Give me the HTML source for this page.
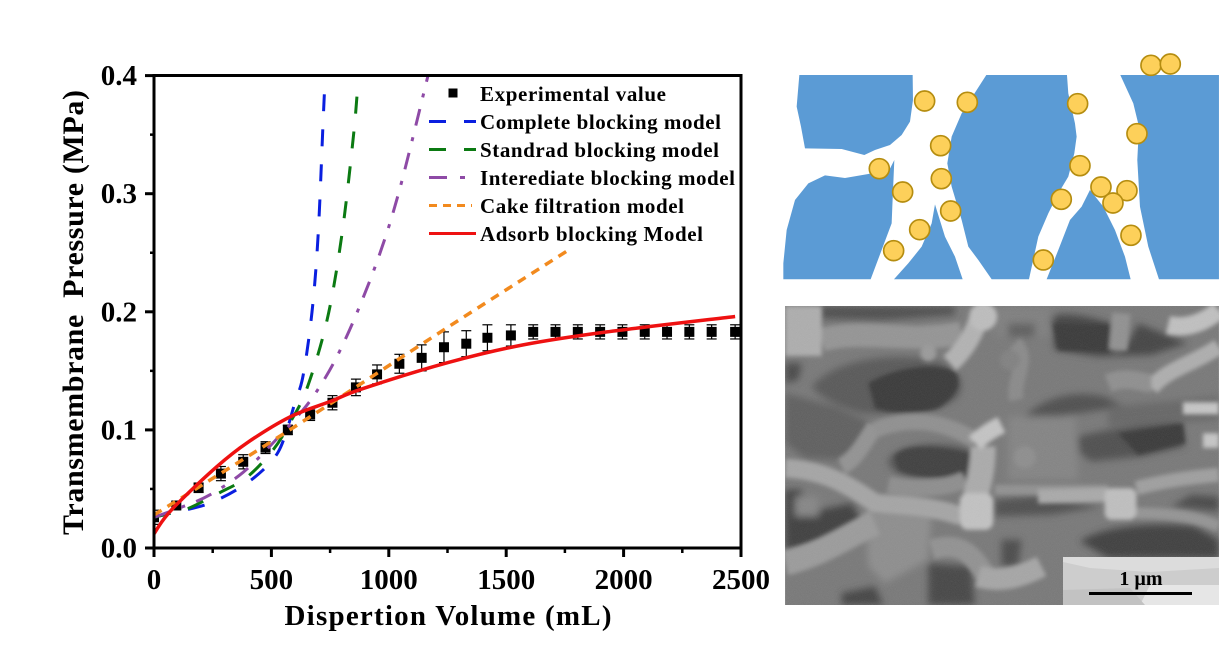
<!DOCTYPE html>
<html lang="en">
<head>
<meta charset="utf-8">
<title>Transmembrane pressure vs dispersion volume</title>
<style>
html,body{margin:0;padding:0;background:#fff;width:1221px;height:661px;overflow:hidden}
svg{display:block}
text{font-family:"Liberation Serif",serif;font-weight:bold;fill:#000}
</style>
</head>
<body>
<svg id="fig" width="1221" height="661" viewBox="0 0 1221 661" xmlns="http://www.w3.org/2000/svg">
<defs>
<filter id="soft" x="-5%" y="-5%" width="110%" height="110%"><feGaussianBlur stdDeviation="11"/></filter>
<filter id="soft2" x="-5%" y="-5%" width="110%" height="110%"><feGaussianBlur stdDeviation="6"/></filter>
<filter id="grain" x="0" y="0" width="100%" height="100%"><feTurbulence type="fractalNoise" baseFrequency="0.55" numOctaves="2" seed="4"/><feColorMatrix type="saturate" values="0"/></filter>
</defs>

<g id="chart">
<svg x="154" y="75" width="587" height="474" viewBox="154 75 587 474">
<g id="series"></g>
</svg>
<rect x="154" y="75.500" width="587" height="472.500" fill="none" stroke="#000" stroke-width="3"/>
<g id="axes"></g>
<text x="448" y="625" font-size="29" text-anchor="middle" textLength="327" lengthAdjust="spacing">Dispertion Volume (mL)</text>
<text transform="translate(83,312.500) rotate(-90)" font-size="30" text-anchor="middle" textLength="445" lengthAdjust="spacing" xml:space="preserve">Transmembrane  Pressure (MPa)</text>
<g id="legend">
<rect x="448.500" y="88.500" width="9" height="9" fill="#000"/>
<text x="480" y="101" font-size="21" textLength="186" lengthAdjust="spacing">Experimental value</text>
<line x1="429" y1="121.500" x2="476" y2="121.500" stroke="#0a1fe0" stroke-width="3" stroke-dasharray="17 18"/>
<text x="480" y="129" font-size="21" textLength="241" lengthAdjust="spacing">Complete blocking model</text>
<line x1="429" y1="149.500" x2="476" y2="149.500" stroke="#0b7a12" stroke-width="3" stroke-dasharray="17 18"/>
<text x="480" y="157" font-size="21" textLength="239" lengthAdjust="spacing">Standrad blocking model</text>
<line x1="429" y1="177.500" x2="447" y2="177.500" stroke="#8e4aa6" stroke-width="3"/>
<line x1="460" y1="177.500" x2="465" y2="177.500" stroke="#8e4aa6" stroke-width="3"/>
<text x="480" y="185" font-size="21" textLength="255" lengthAdjust="spacing">Interediate blocking model</text>
<line x1="429" y1="205.500" x2="472" y2="205.500" stroke="#f28a1e" stroke-width="3" stroke-dasharray="8 6"/>
<text x="480" y="213" font-size="21" textLength="204" lengthAdjust="spacing">Cake filtration model</text>
<line x1="429" y1="233.500" x2="476" y2="233.500" stroke="#ee1111" stroke-width="3"/>
<text x="480" y="241" font-size="21" textLength="223" lengthAdjust="spacing">Adsorb blocking Model</text>
</g>
</g>

<g transform="translate(775,50) scale(0.3333)">
<g fill="#5b9bd5">
<path d="M73,75 L413,75 L414,150 L405,215 L380,255 L345,285 L300,300 L268,315 L200,297 L90,295 L78,230 L65,170 Z"/>
<path d="M358,330 L352,470 L350,520 L320,600 L287,688 L25,688 L25,640 L35,540 L60,450 L100,400 L150,376 L210,384 L280,372 L345,356 Z"/>
<path d="M480,463 L510,560 L540,620 L563,688 L357,688 L400,640 L440,590 L470,520 Z"/>
<path d="M634,75 L876,75 L880,130 L900,220 L905,260 L898,310 L880,380 L850,430 L820,490 L790,560 L762,688 L650,688 L610,630 L580,590 L560,510 L530,410 L517,340 L530,260 L560,190 Z"/>
<path d="M945,420 L985,470 L1020,540 L1050,620 L1067,688 L815,688 L850,600 L885,510 L920,470 Z"/>
<path d="M1036,75 L1332,75 L1332,688 L1152,688 L1120,590 L1095,470 L1087,330 L1092,230 L1075,160 Z"/>
</g>
<g id="particles" fill="#fdd05a" stroke="#b58d10" stroke-width="5"></g>
</g>

<svg x="785" y="306" width="434" height="299" viewBox="30 18 1303 898">
<rect x="30" y="18" width="1303" height="898" fill="#767676"/>
<g filter="url(#soft)">
<path d="M110,260 C170,190 300,160 450,175 C540,190 580,240 550,290 C500,340 380,350 260,340 C190,320 130,290 110,260Z" fill="#545454"/>
<path d="M30,280 L180,320 L290,370 L250,440 L190,480 L90,475 L30,430Z" fill="#5c5c5c"/>
<path d="M30,570 L80,570 L90,640 L230,610 L270,680 L170,730 L30,750Z" fill="#3a3a3a"/>
<path d="M135,18 L540,18 L540,45 L330,60 L135,55Z" fill="#484848"/>
<path d="M330,95 L450,85 L440,108 L340,110Z" fill="#484848"/>
<path d="M830,50 C880,30 980,60 1010,70 L1010,150 C1040,170 1060,130 1090,70 L1240,130 L1130,165 L970,170 L840,150Z" fill="#414141"/>
<path d="M750,350 C810,290 900,270 990,290 L1050,320 L850,350Z" fill="#4c4c4c"/>
<path d="M1000,320 L1333,290 L1333,360 L1000,380Z" fill="#636363"/>
<path d="M910,410 C980,390 1120,370 1220,370 L1230,440 L1100,470 L950,485 L915,460Z" fill="#4c4c4c"/>
<path d="M915,725 C980,680 1130,665 1260,680 L1333,720 L1333,775 L1000,775Z" fill="#3b3b3b"/>
<path d="M460,790 L590,800 L600,916 L460,916Z" fill="#434343"/>
<path d="M200,880 L300,860 L325,916 L200,916Z" fill="#404040"/>
<path d="M660,600 L780,590 L980,620 L830,645 L660,650Z" fill="#4b4b4b"/>
<path d="M1190,620 L1250,585 L1333,590 L1333,635 Z" fill="#454545"/>
<path d="M680,720 L740,720 L730,800 L680,800Z" fill="#474747"/>
<path d="M30,190 L80,190 L70,240 L30,250Z" fill="#444444"/>
<path d="M340,480 C370,430 500,420 590,450 L575,530 L420,535 C370,525 340,510 340,480Z" fill="#4d4d4d"/>
<path d="M660,20 L830,20 L830,110 L660,110Z" fill="#7d7d7d"/>
<path d="M700,70 L780,70 L780,110 L700,110Z" fill="#5c5c5c"/>
<path d="M60,590 L130,590 L130,650 L60,650Z" fill="#848484"/>
<path d="M700,350 L900,350 L910,540 L700,540Z" fill="#828282"/>
<path d="M270,630 L470,640 L460,780 L330,850 L280,800Z" fill="#8c8c8c"/>
</g>
<g filter="url(#soft2)">
<path d="M280,250 C340,210 470,180 540,215 C570,260 530,300 490,325 C420,345 340,340 300,325Z" fill="#343434"/>
<path d="M358,470 C380,440 450,430 585,460 L575,528 C490,540 410,530 370,510Z" fill="#3a3a3a"/>
<path d="M1030,400 L1225,370 L1232,430 L1090,465Z" fill="#353535"/>
<path d="M835,70 L1010,75 L1010,155 L850,150Z" fill="#343434"/>
<g fill="none" stroke-linecap="butt">
<path d="M140,120 C260,85 400,130 560,100" stroke="#939393" stroke-width="70"/>
<path d="M525,190 C570,150 600,100 620,30" stroke="#b2b2b2" stroke-width="58"/>
<path d="M1040,40 L1030,150" stroke="#8f8f8f" stroke-width="55"/>
<path d="M1130,265 C1170,210 1260,190 1333,140" stroke="#adadad" stroke-width="48"/>
<path d="M1180,75 C1240,90 1300,60 1333,30" stroke="#c0c0c0" stroke-width="55"/>
<path d="M1225,325 L1333,325" stroke="#c6c6c6" stroke-width="36"/>
<path d="M1285,422 L1333,422" stroke="#c6c6c6" stroke-width="44"/>
<path d="M30,505 C130,510 200,540 300,610 C400,620 480,620 560,650" stroke="#a4a4a4" stroke-width="56"/>
<path d="M300,380 C260,440 240,480 200,500" stroke="#919191" stroke-width="50"/>
<path d="M300,390 C400,350 500,360 600,420" stroke="#8e8e8e" stroke-width="48"/>
<path d="M340,555 C420,570 500,570 570,540" stroke="#8c8c8c" stroke-width="50"/>
<path d="M625,440 C625,520 610,560 590,630" stroke="#aaaaaa" stroke-width="75"/>
<path d="M600,430 C630,400 660,385 680,375" stroke="#c4c4c4" stroke-width="52"/>
<path d="M660,570 L1000,570" stroke="#909090" stroke-width="30"/>
<path d="M790,590 L1000,585" stroke="#a9a9a9" stroke-width="42"/>
<path d="M1085,565 C1180,540 1270,530 1333,525" stroke="#9e9e9e" stroke-width="42"/>
<path d="M1085,640 C1180,640 1270,650 1333,680" stroke="#939393" stroke-width="34"/>
<path d="M30,790 C150,760 230,700 300,670" stroke="#9a9a9a" stroke-width="75"/>
<path d="M470,750 C560,720 600,770 640,840" stroke="#909090" stroke-width="60"/>
<path d="M610,830 C680,850 740,830 800,800" stroke="#a5a5a5" stroke-width="65"/>
<path d="M720,130 C770,180 710,240 725,300" stroke="#888888" stroke-width="44"/>
<path d="M1000,250 C1060,225 1100,250 1130,250" stroke="#8d8d8d" stroke-width="55"/>
</g>
<rect x="30" y="18" width="110" height="150" fill="#adadad"/>
<rect x="990" y="565" width="95" height="95" rx="20" fill="#bfbfbf"/>
<rect x="555" y="580" width="100" height="110" rx="24" fill="#c2c2c2"/>
<circle cx="460" cy="160" r="24" fill="#999999"/>
<circle cx="705" cy="180" r="30" fill="#7f7f7f"/>
<circle cx="750" cy="472" r="33" fill="#8c8c8c"/>
<circle cx="625" cy="50" r="42" fill="#bdbdbd"/>
</g>
<rect x="30" y="18" width="1303" height="898" filter="url(#grain)" opacity="0.18"/>
</svg>

<g>
<rect x="1063" y="557" width="156" height="48" fill="#cdcdcd"/>
<path d="M1063,557 L1219,557 L1219,568 L1150,572 L1090,568 L1063,562Z" fill="#dcdcdc"/>
<path d="M1140,605 L1150,585 L1219,585 L1219,605Z" fill="#e6e6e6"/>
<path d="M1063,590 L1130,588 L1145,605 L1063,605Z" fill="#c2c2c2"/>
<text x="1141" y="585" font-size="20" text-anchor="middle">1 µm</text>
<rect x="1089" y="592" width="103" height="3" fill="#000"/>
</g>
</svg>

<script>
var volumes = [0,95,190,285,380,475,570,665,760,860,950,1045,1140,1235,1330,1420,1520,1615,1710,1805,1900,1995,2090,2185,2280,2375,2475];
var pressures = [0.026,0.036,0.051,0.063,0.073,0.085,0.100,0.113,0.123,0.136,0.147,0.156,0.161,0.170,0.173,0.178,0.180,0.183,0.183,0.183,0.183,0.183,0.183,0.183,0.183,0.183,0.183];
var errors = [0.006,0.003,0.004,0.006,0.006,0.005,0.004,0.005,0.006,0.007,0.008,0.008,0.011,0.013,0.011,0.011,0.009,0.006,0.006,0.006,0.006,0.006,0.006,0.006,0.006,0.006,0.006];

var completeX = [0,60,110,238,366,464,528,566,600,635,673,699,720,728];
var completeY = [0.026,0.029,0.031,0.038,0.051,0.066,0.081,0.100,0.123,0.146,0.200,0.265,0.360,0.395];
var standardX = [0,60,140,281,396,507,579,651,737,800,850,869];
var standardY = [0.026,0.029,0.033,0.047,0.060,0.083,0.106,0.135,0.193,0.265,0.350,0.395];
var intermediateX = [0,123,238,379,507,635,707,779,864,963,1048,1167];
var intermediateY = [0.026,0.035,0.045,0.064,0.089,0.117,0.137,0.162,0.199,0.250,0.305,0.400];
var cakeX = [0,570,1252,1763];
var cakeY = [0.028,0.099,0.187,0.252];
var adsorbX = [0,40,102,268,396,579,750,890,1252,1572,1929,2475];
var adsorbY = [0.012,0.024,0.038,0.069,0.089,0.111,0.124,0.135,0.157,0.172,0.183,0.196];

var xTickValues = [0,500,1000,1500,2000,2500];
var xMinorValues = [250,750,1250,1750,2250];
var yTickValues = ['0.0','0.1','0.2','0.3','0.4'];
var yMinorValues = [0.05,0.15,0.25,0.35];

var particleCenters = [[449,153],[577,157],[908,161],[1128,46],[1186,42],[1086,251],[497,287],[915,347],[313,356],[499,386],[978,411],[1056,422],[1014,459],[383,426],[859,448],[527,483],[434,539],[1068,556],[356,602],[805,630]];

var NS = 'http://www.w3.org/2000/svg';
function xScale(v){ return 154 + v * 587 / 2500; }
function yScale(v){ return 548 - v * 1181; }
function make(tag, attrs, parent){
  var el = document.createElementNS(NS, tag);
  for (var k in attrs) el.setAttribute(k, attrs[k]);
  parent.appendChild(el);
  return el;
}
function linePath(xs, ys){
  var pts = xs.map(function(v,i){ return [xScale(v), yScale(ys[i])]; });
  var d = 'M' + pts[0][0] + ',' + pts[0][1];
  for (var i = 0; i < pts.length - 1; i++){
    var p0 = pts[Math.max(i-1,0)], p1 = pts[i], p2 = pts[i+1], p3 = pts[Math.min(i+2,pts.length-1)];
    d += ' C' + (p1[0]+(p2[0]-p0[0])/6) + ',' + (p1[1]+(p2[1]-p0[1])/6) + ' ' +
         (p2[0]-(p3[0]-p1[0])/6) + ',' + (p2[1]-(p3[1]-p1[1])/6) + ' ' + p2[0] + ',' + p2[1];
  }
  return d;
}

var seriesG = document.getElementById('series');
var axesG = document.getElementById('axes');
var particlesG = document.getElementById('particles');

volumes.forEach(function(v,i){
  var g = make('g', {}, seriesG);
  
  
  var cx = xScale(v), cy = yScale(pressures[i]);
  var top = yScale(pressures[i] + errors[i]), bot = yScale(pressures[i] - errors[i]);
  make('line', {x1:cx,x2:cx,y1:top,y2:bot,stroke:'#000','stroke-width':1.200}, g);
  make('line', {x1:cx-5,x2:cx+5,y1:top,y2:top,stroke:'#000','stroke-width':1.200}, g);
  make('line', {x1:cx-5,x2:cx+5,y1:bot,y2:bot,stroke:'#000','stroke-width':1.200}, g);
  make('rect', {x:cx-5,y:cy-5,width:10,height:10,fill:'#000'}, g);
});

var completeLine = make('path', {d:linePath(completeX,completeY),fill:'none',stroke:'#0a1fe0','stroke-width':3,'stroke-dasharray':'17 18'}, seriesG);


var standardLine = make('path', {d:linePath(standardX,standardY),fill:'none',stroke:'#0b7a12','stroke-width':3,'stroke-dasharray':'17 18'}, seriesG);


var intermediateLine = make('path', {d:linePath(intermediateX,intermediateY),fill:'none',stroke:'#8e4aa6','stroke-width':3,'stroke-dasharray':'17 12 4 12'}, seriesG);


var cakeLine = make('path', {d:linePath(cakeX,cakeY),fill:'none',stroke:'#f28a1e','stroke-width':3.500,'stroke-dasharray':'9 7'}, seriesG);


var adsorbLine = make('path', {d:linePath(adsorbX,adsorbY),fill:'none',stroke:'#ee1111','stroke-width':3.500}, seriesG);



xTickValues.forEach(function(v){
  var tick = make('line', {x1:xScale(v),x2:xScale(v),y1:548,y2:557,stroke:'#000','stroke-width':3}, axesG);
  
  
  var label = make('text', {x:xScale(v),y:589,'font-size':29,'text-anchor':'middle'}, axesG);
  
  
  label.textContent = v;
});
xMinorValues.forEach(function(v){
  var tick = make('line', {x1:xScale(v),x2:xScale(v),y1:548,y2:553,stroke:'#000','stroke-width':2.500}, axesG);
  
  
});
yTickValues.forEach(function(s){
  var v = parseFloat(s);
  var tick = make('line', {x1:145,x2:154,y1:yScale(v),y2:yScale(v),stroke:'#000','stroke-width':3}, axesG);
  
  
  var label = make('text', {x:137,y:yScale(v)+9.500,'font-size':29,'text-anchor':'end'}, axesG);
  
  
  label.textContent = s;
});
yMinorValues.forEach(function(v){
  var tick = make('line', {x1:150,x2:154,y1:yScale(v),y2:yScale(v),stroke:'#000','stroke-width':2.500}, axesG);
  
  
});

particleCenters.forEach(function(c){
  var circle = make('circle', {cx:c[0],cy:c[1],r:30}, particlesG);
  
  
});
</script>
</body>
</html>
